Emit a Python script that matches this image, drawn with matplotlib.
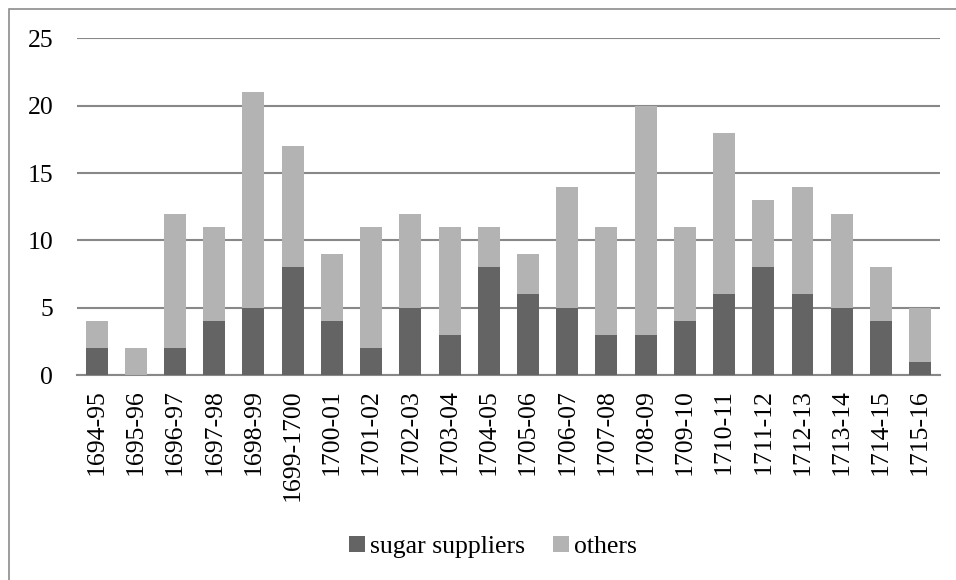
import numpy as np
import matplotlib
matplotlib.use("Agg")
import matplotlib.pyplot as plt
from matplotlib.patches import Rectangle

# data
seasons = ["1694-95", "1695-96", "1696-97", "1697-98", "1698-99", "1699-1700",
           "1700-01", "1701-02", "1702-03", "1703-04", "1704-05", "1705-06",
           "1706-07", "1707-08", "1708-09", "1709-10", "1710-11", "1711-12",
           "1712-13", "1713-14", "1714-15", "1715-16"]
sugar = [2, 0, 2, 4, 5, 8, 4, 2, 5, 3, 8, 6, 5, 3, 3, 4, 6, 8, 6, 5, 4, 1]
others = [2, 2, 10, 7, 16, 9, 5, 9, 7, 8, 3, 3, 9, 8, 17, 7, 12, 5, 8, 7, 4, 4]

plt.rcParams['font.family'] = ['Liberation Serif', 'DejaVu Serif']

dark = "#646464"
light = "#b3b3b3"
gridc = "#888888"

fig = plt.figure(figsize=(9.56, 5.8), dpi=100)
ax = fig.add_axes([0.0805, 0.353, 0.9025, 0.581])

x = np.arange(len(seasons))
ax.bar(x, sugar, width=0.56, color=dark, label="sugar suppliers", zorder=3)
ax.bar(x, others, width=0.56, bottom=sugar, color=light, label="others", zorder=3)

ax.set_xlim(-0.5, len(seasons) - 0.5)
ax.set_ylim(0, 25)
ax.set_yticks(range(0, 26, 5))
ax.yaxis.grid(True, color=gridc, linewidth=1.5, zorder=0)
ax.set_xticks(x)
ax.set_xticklabels(seasons, rotation=90)
ax.tick_params(axis="both", length=0, labelsize=18.5, colors="black")
ax.tick_params(axis="y", pad=17)
ax.tick_params(axis="x", pad=10)
for s in ["top", "right", "left"]:
    ax.spines[s].set_visible(False)
ax.spines["bottom"].set_color(gridc)
ax.spines["bottom"].set_linewidth(1.5)

fig.legend(loc="center", bbox_to_anchor=(493 / 956, 1 - 547 / 580), ncol=2, frameon=False,
           fontsize=18.5, handlelength=0.6, handleheight=0.6, handletextpad=0.2,
           columnspacing=1.1)

# outer border of the chart area
fig.patches.append(Rectangle((9 / 956, -0.05), 1.0, 1.05 - 9 / 580, transform=fig.transFigure,
                             fill=False, edgecolor="#8c8c8c", linewidth=1.2))

fig.savefig("out.png", dpi=100)
